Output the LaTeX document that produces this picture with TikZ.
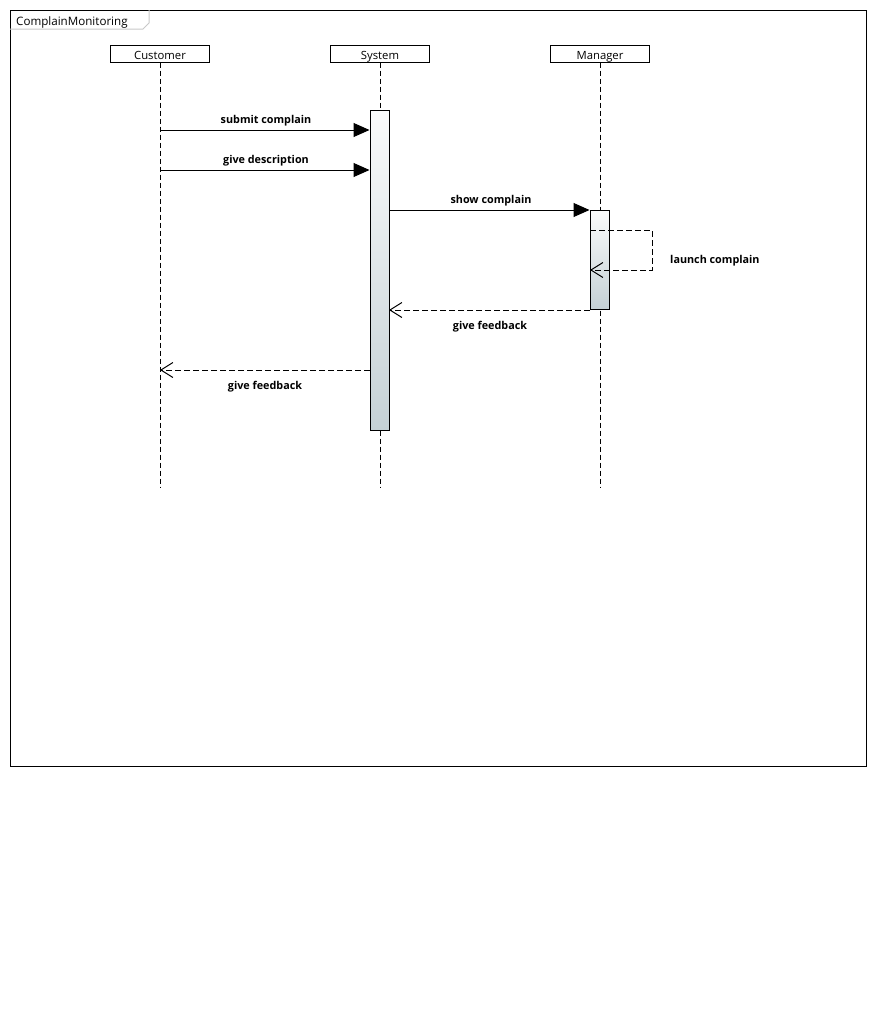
\documentclass[tikz,border=0pt]{standalone}
\usepackage{fontspec}
\setmainfont{Open Sans}
\usetikzlibrary{arrows.meta}
\definecolor{barTop}{HTML}{FAFBFB}
\definecolor{barBot}{HTML}{C5D1D5}
\definecolor{tabLine}{HTML}{C8C8C8}
\begin{document}
\begin{tikzpicture}[x=1pt,y=-1pt,
  head/.style={draw, line width=1pt, minimum width=99pt, minimum height=17pt,
    inner sep=0pt},
  headtext/.style={font=\fontsize{11.3}{13}\selectfont, inner sep=0pt, anchor=base},
  life/.style={line width=1pt, dash pattern=on 5pt off 3pt},
  bar/.style={draw, line width=1pt, top color=barTop, bottom color=barBot,
    minimum width=19pt, inner sep=0pt},
  sync/.style={line width=1pt, -{Triangle[length=16pt,width=14pt]}},
  reply/.style={line width=1pt, dash pattern=on 6pt off 3pt,
    -{Straight Barb[length=12pt,width=15pt,line width=1pt]}},
  msg/.style={font=\bfseries\fontsize{10.8}{13}\selectfont, inner sep=0pt},
  framelabel/.style={font=\fontsize{11.6}{14}\selectfont, inner sep=0pt, anchor=base west}]
\useasboundingbox (0,0) rectangle (877,1020);

% frame with its name tab
\draw[line width=1pt] (10,10) rectangle (866,766);
\draw[tabLine, line width=1pt] (10,29) -- (143,29) -- (149,23) -- (149,10);
\node[framelabel] (frame) at (16,25) {ComplainMonitoring};

% lifeline heads
\node[head] (cust) at (159.5,53.5) {};
\node[head] (sys)  at (379.5,53.5) {};
\node[head] (mgr)  at (599.5,53.5) {};
\node[headtext] (custName) at (160,59.5) {Customer};
\node[headtext] (sysName)  at (380,59.5) {System};
\node[headtext] (mgrName)  at (600,59.5) {Manager};

% lifeline ends
\coordinate (custEnd) at (160,488);
\coordinate (sysEnd)  at (380,488);
\coordinate (mgrEnd)  at (600,488);
\draw[life] (custEnd |- cust.south) -- (custEnd);
\draw[life] (sysEnd |- sys.south) -- (sysEnd);
\draw[life] (mgrEnd |- mgr.south) -- (mgrEnd);

% activation bars
\node[bar, minimum height=320pt] (sysbar) at (379.5,270) {};
\node[bar, minimum height=99pt]  (mgrbar) at (599.5,259.5) {};

% anchor points on the lifelines
\coordinate (c1) at (160,130);
\coordinate (c2) at (160,170);
\coordinate (c3) at (389,210);
\coordinate (c4) at (590,230);
\coordinate (c5) at (652,230);
\coordinate (c6) at (652,270);
\coordinate (c7) at (590,270);
\coordinate (c8) at (590,310);
\coordinate (c9) at (389,310);
\coordinate (c10) at (370,370);
\coordinate (c11) at (160,370);

% messages
\draw[sync] (c1) -- (sysbar.west |- c1);
\node[msg] (l1) at (266,121) {submit complain};
\draw[sync] (c2) -- (sysbar.west |- c2);
\node[msg] (l2) at (266,161) {give description};
\draw[sync] (c3) -- (mgrbar.west |- c3);
\node[msg] (l3) at (491,201) {show complain};
\draw[reply] (c4) -- (c5) -- (c6) -- (c7);
\node[msg, anchor=west] (l4) at (670,261) {launch complain};
\draw[reply] (c8) -- (c9);
\node[msg] (l5) at (490,327) {give feedback};
\draw[reply] (c10) -- (c11);
\node[msg] (l6) at (265,387) {give feedback};
\end{tikzpicture}
\end{document}
